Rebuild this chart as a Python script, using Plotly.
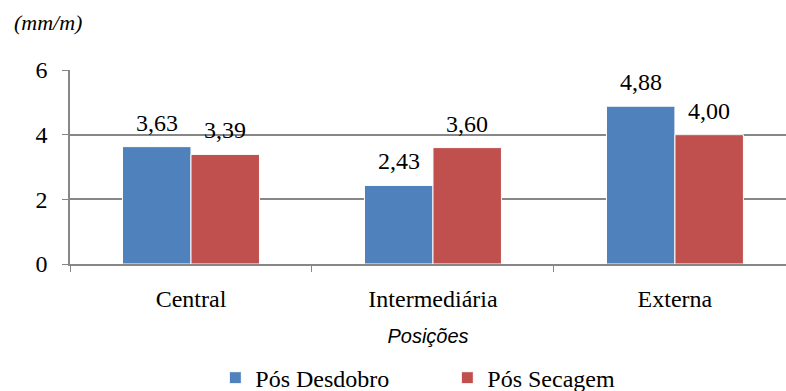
import plotly.graph_objects as go

posicoes = ["Central", "Intermediária", "Externa"]
pos_desdobro = [3.63, 2.43, 4.88]
pos_secagem = [3.39, 3.60, 4.00]
serie_nomes = ["Pós Desdobro", "Pós Secagem"]
y_ticks = [0, 2, 4, 6]

SERIF = "Liberation Serif, Times New Roman, serif"
SANS = "Liberation Sans, Arial, sans-serif"
AXIS_GREY = "#878787"
BAR_OFFSET_PX = 34.25  # half of one bar's width in pixels

def fmt(v):
    return f"{v:.2f}".replace(".", ",")

fig = go.Figure()
series = [
    (serie_nomes[0], pos_desdobro, "#4F81BD", -BAR_OFFSET_PX),
    (serie_nomes[1], pos_secagem, "#C0504D", BAR_OFFSET_PX),
]
annotations = []
for nome, vals, cor, shift in series:
    fig.add_trace(go.Bar(
        x=posicoes, y=vals, name=nome,
        marker=dict(color=cor, line=dict(color="white", width=1)),
    ))
    # value labels above each bar
    for cat, v in zip(posicoes, vals):
        annotations.append(dict(
            x=cat, y=v, xref="x", yref="y", text=fmt(v), showarrow=False,
            xanchor="center", yanchor="bottom", xshift=shift, yshift=9,
            font=dict(family=SERIF, size=24, color="black"),
        ))

annotations.append(dict(
    text="<i>(mm/m)</i>", xref="paper", yref="paper", x=-0.081, y=1.247,
    xanchor="left", yanchor="middle", showarrow=False,
    font=dict(family=SERIF, size=22, color="black"),
))

fig.update_layout(
    width=786, height=391,
    margin=dict(l=70, r=0, t=70, b=127, autoexpand=False),
    plot_bgcolor="white", paper_bgcolor="white",
    barmode="group", bargap=0.434, bargroupgap=0,
    font=dict(family=SERIF, size=24, color="black"),
    showlegend=True,
    legend=dict(orientation="h", x=0.527, xanchor="center",
                yref="container", y=0.033, yanchor="middle",
                font=dict(family=SERIF, size=24, color="black"),
                entrywidth=187, itemwidth=30),
    annotations=annotations,
)

fig.update_xaxes(
    range=[-0.5, 2.459], showline=True, linecolor=AXIS_GREY, linewidth=1.5,
    ticks="outside", tickson="boundaries", ticklen=6, tickcolor=AXIS_GREY,
    tickfont=dict(family=SERIF, size=24), ticklabelstandoff=12,
    title=dict(text="<i>Posições</i>", font=dict(family=SANS, size=20), standoff=18),
)
fig.update_yaxes(
    range=[0, 6], tickvals=y_ticks, showline=True, linecolor=AXIS_GREY, linewidth=1.5,
    showgrid=True, gridcolor=AXIS_GREY, gridwidth=1.5, zeroline=False,
    ticks="outside", ticklen=6, tickcolor=AXIS_GREY,
    tickfont=dict(family=SERIF, size=24), ticklabelstandoff=10,
)

fig.write_html("out.html")
